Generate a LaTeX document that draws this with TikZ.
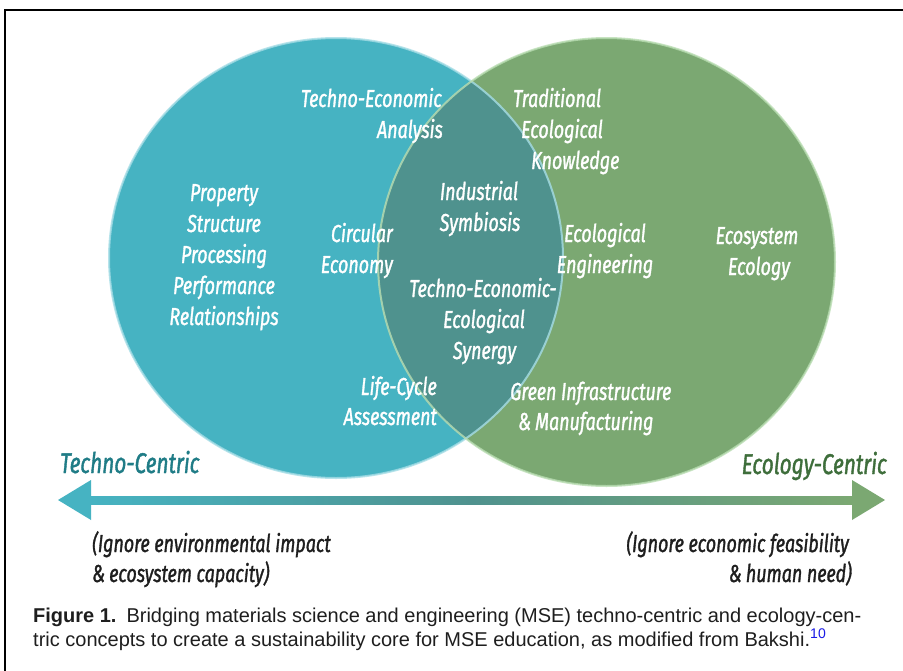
\documentclass[tikz,border=0pt]{standalone}
\usepackage{fontspec}
\setmainfont{Liberation Sans}
\newfontfamily\lblfont[FakeStretch=0.73, FakeBold=1.3]{Fira Sans}
\definecolor{techfill}{HTML}{46B3C2}
\definecolor{ecofill}{HTML}{7BA872}
\definecolor{corefill}{HTML}{4F928E}
\definecolor{techrim}{HTML}{A6DDE6}
\definecolor{ecorim}{HTML}{B9DDB2}
\definecolor{techdark}{HTML}{1F7C86}
\definecolor{ecodark}{HTML}{3E6E3B}
\definecolor{captext}{HTML}{1E1E1E}
\definecolor{capblue}{HTML}{1A1AE6}
\begin{document}
\begin{tikzpicture}[x=1pt,y=-1pt,
  lbl/.style={font=\lblfont\itshape\fontsize{24.5}{30}\selectfont, text=white, inner sep=0pt},
  note/.style={font=\lblfont\itshape\fontsize{24.5}{30}\selectfont, text=captext, inner sep=0pt},
  pole/.style={font=\lblfont\itshape\fontsize{28.5}{30}\selectfont, inner sep=0pt},
  captionline/.style={font=\fontsize{20}{24}\selectfont, text=captext, inner sep=0pt},
  techset/.style={x radius=227, y radius=220},
  ecoset/.style={x radius=228.5, y radius=224}]
\useasboundingbox (0,0) rectangle (903,670);
\clip (0,0) rectangle (903,670);
\fill[white] (0,0) rectangle (903,670);
% frame round the figure
\draw[line width=1.5pt] (5,10) rectangle (920,690);

% the two overlapping sets
\coordinate (techC) at (336,258);
\coordinate (ecoC) at (606.5,262);
\fill[techfill] (techC) ellipse [techset];
\fill[ecofill] (ecoC) ellipse [ecoset];
\begin{scope}
  \clip (techC) ellipse [techset];
  \fill[corefill] (ecoC) ellipse [ecoset];
\end{scope}
\draw[techrim, line width=2pt, opacity=0.8] (techC) ellipse [techset];
\draw[ecorim, line width=2pt, opacity=0.8] (ecoC) ellipse [ecoset];

% labels in the sets
\node[lbl, anchor=base east] (tea1) at (442,107) {Techno-Economic};
\node[lbl, anchor=base east] (tea2) at (443,138) {Analysis};
\node[lbl, anchor=base west] (tek1) at (513,107) {Traditional};
\node[lbl, anchor=base west] (tek2) at (521,138) {Ecological};
\node[lbl, anchor=base west] (tek3) at (531,169) {Knowledge};
\node[lbl, anchor=base] (psp1) at (224,201) {Property};
\node[lbl, anchor=base] (psp2) at (224,232) {Structure};
\node[lbl, anchor=base] (psp3) at (224,263) {Processing};
\node[lbl, anchor=base] (psp4) at (224,294) {Performance};
\node[lbl, anchor=base] (psp5) at (224,325) {Relationships};
\node[lbl, anchor=base east] (ce1) at (393,242) {Circular};
\node[lbl, anchor=base east] (ce2) at (393,273) {Economy};
\node[lbl, anchor=base] (is1) at (479,200) {Industrial};
\node[lbl, anchor=base] (is2) at (480,231) {Symbiosis};
\node[lbl, anchor=base] (ee1) at (605,242) {Ecological};
\node[lbl, anchor=base] (ee2) at (605,273) {Engineering};
\node[lbl, anchor=base] (eco1) at (757,244) {Ecosystem};
\node[lbl, anchor=base] (eco2) at (759,275) {Ecology};
\node[lbl, anchor=base] (tes1) at (483,297) {Techno-Economic-};
\node[lbl, anchor=base] (tes2) at (484,328) {Ecological};
\node[lbl, anchor=base] (tes3) at (484.5,359) {Synergy};
\node[lbl, anchor=base east] (lca1) at (437,395) {Life-Cycle};
\node[lbl, anchor=base east] (lca2) at (437,425) {Assessment};
\node[lbl, anchor=base west] (gim1) at (510,400) {Green Infrastructure};
\node[lbl, anchor=base west] (gim2) at (518,430) {\&\,Manufacturing};

% the two poles and the scale between them
\node[pole, text=techdark, anchor=base west] (techPole) at (60,473) {Techno-Centric};
\node[pole, text=ecodark, anchor=base east] (ecoPole) at (887,474) {Ecology-Centric};
\coordinate (westTip) at (58,500);
\coordinate (eastTip) at (885,500);
\shade[left color=techfill, right color=ecofill, middle color=corefill]
  ([xshift=33pt,yshift=4pt]westTip) rectangle ([xshift=-33pt,yshift=-4pt]eastTip);
\fill[techfill] (westTip) -- ++(33,-20) -- ++(0,40) -- cycle;
\fill[ecofill] (eastTip) -- ++(-33,-20) -- ++(0,40) -- cycle;

\node[note, anchor=base west] (techNote1) at (92,552) {(Ignore environmental impact};
\node[note, anchor=base west] (techNote2) at (92,582) {\&\,ecosystem capacity)};
\node[note, anchor=base east] (ecoNote1) at (849,552) {(Ignore economic feasibility};
\node[note, anchor=base east] (ecoNote2) at (852,582) {\&\,human need)};

% caption
\node[captionline, anchor=base west] (cap1) at (33,622)
  {\textbf{Figure 1.}\hspace{0.5em}Bridging materials science and engineering (MSE) techno-centric and ecology-cen-};
\node[captionline, anchor=base west] (cap2) at (33,646)
  {tric concepts to create a sustainability core for MSE education, as modified from Bakshi.\textsuperscript{\textcolor{capblue}{10}}};
\end{tikzpicture}
\end{document}
